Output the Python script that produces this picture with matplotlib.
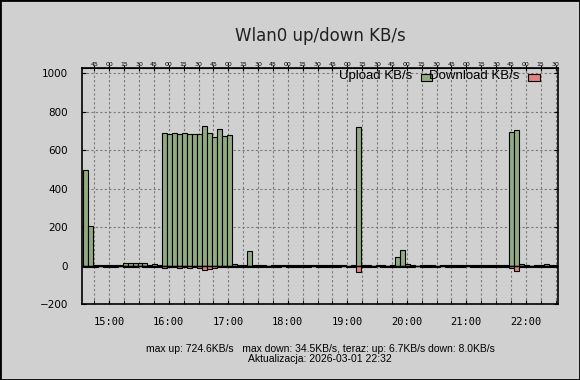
import pandas as pd
import matplotlib
matplotlib.use("Agg")
import matplotlib.pyplot as plt
import matplotlib.dates as mdates
from matplotlib.patches import Rectangle

# --- data (5 minute samples, KB/s) ---
first_sample = "2026-03-01 14:36"
step = "5min"
updated = "2026-03-01 22:32"

upload = [500, 205, 6, 3, 4, 2, 5, 6, 12, 12, 12, 12, 12, 6, 7, 4,
          690, 687, 690, 686, 690, 686, 686, 686, 724.6, 690, 670, 712, 676, 682,
          7, 3, 2, 75, 5, 6, 2, 1, 3, 2, 3, 5, 6, 4, 3, 2, 4, 4, 3, 2,
          3, 2, 4, 1, 2, 719, 3, 2, 1, 6, 2, 1, 4, 48, 80, 8, 2, 1, 2, 3,
          2, 1, 4, 5, 2, 2, 5, 3, 2, 6, 5, 3, 6, 4, 6, 4, 694, 708, 7, 2,
          1, 2, 4, 7, 4, 6.7]
download = [6, 7, 4, 3, 5, 4, 6, 3, 5, 4, 5, 3, 5, 4, 6, 5,
            9, 8, 8, 9, 8, 9, 8, 10, 20, 19, 9, 8, 7, 6,
            4, 5, 6, 5, 7, 4, 5, 6, 4, 5, 3, 4, 5, 6, 4, 5, 3, 4, 5, 4,
            6, 5, 3, 4, 5, 34.5, 5, 4, 6, 3, 5, 6, 4, 5, 6, 4, 5, 3, 6, 4,
            5, 6, 3, 4, 5, 6, 4, 3, 5, 4, 5, 6, 4, 5, 4, 6, 10, 26, 5, 6,
            4, 5, 6, 4, 5, 8.0]

times = pd.date_range(first_sample, periods=len(upload), freq=step)
down_neg = [-d for d in download]

bg = "#d0d0d0"
green = "#90ab7f"
red = "#e58080"

fig = plt.figure(figsize=(5.8, 3.8), dpi=100, facecolor=bg)
ax = fig.add_axes([82 / 580, 1 - 304.3 / 380, 476 / 580, 236 / 380])
ax.set_facecolor(bg)

w = 5 / 1440
ax.bar(times, upload, width=w, color=green, edgecolor="black", linewidth=0.8, zorder=3)
ax.bar(times, down_neg, width=w, color=red, edgecolor="black", linewidth=0.8, zorder=3)
ax.axhline(0, color="black", linewidth=1, zorder=4)

ax.set_xlim(pd.Timestamp("2026-03-01 14:32:30"), pd.Timestamp("2026-03-01 22:32:30"))
ax.set_ylim(-200, 1026)
ax.set_yticks(range(-200, 1001, 200))

ax.xaxis.set_major_locator(mdates.HourLocator())
ax.xaxis.set_major_formatter(mdates.DateFormatter("%H:%M"))
ax.xaxis.set_minor_locator(mdates.MinuteLocator(byminute=[0, 15, 30, 45]))

ax.grid(True, which="both", axis="x", color="#7a7a7a", linestyle=(0, (2, 2)), linewidth=0.8, zorder=1)
ax.grid(True, which="major", axis="y", color="#7a7a7a", linestyle=(0, (2, 2)), linewidth=0.8, zorder=1)

ax.tick_params(axis="y", direction="in", length=3, left=True, right=True, labelsize=7.5, pad=10)
ax.tick_params(axis="x", which="both", direction="in", length=3)
for lab in ax.get_xticklabels():
    lab.set_family("DejaVu Sans Mono")
    lab.set_fontsize(7.5)
ax.tick_params(axis="x", pad=9)

# tiny minute labels along the top
top = ax.secondary_xaxis("top")
top.xaxis.set_major_locator(mdates.MinuteLocator(byminute=[0, 15, 30, 45]))
top.xaxis.set_major_formatter(mdates.DateFormatter("%M"))
top.tick_params(direction="inout", length=4, labelsize=4.5, pad=-1)

for s in ax.spines.values():
    s.set_linewidth(1.2)
    s.set_zorder(5)

fig.text(320 / 580, 1 - 36 / 380, "Wlan0 up/down KB/s", ha="center", va="center", fontsize=12, color="#202020")

# gnuplot-style key: text then sample box
fig.text(412 / 580, 1 - 76 / 380, "Upload KB/s", ha="right", va="center",
         family="Liberation Sans", fontsize=9.5)
fig.patches.append(Rectangle((421 / 580, 1 - 80.5 / 380), 11 / 580, 6.5 / 380,
                             transform=fig.transFigure, facecolor=green, edgecolor="black", linewidth=0.8))
fig.text(519 / 580, 1 - 76 / 380, "Download KB/s", ha="right", va="center",
         family="Liberation Sans", fontsize=9.5)
fig.patches.append(Rectangle((528 / 580, 1 - 80.5 / 380), 12 / 580, 6.5 / 380,
                             transform=fig.transFigure, facecolor=red, edgecolor="black", linewidth=0.8))

stats = (f"max up: {max(upload):.1f}KB/s   max down: {max(download):.1f}KB/s, "
         f"teraz: up: {upload[-1]:.1f}KB/s down: {download[-1]:.1f}KB/s")
fig.text(320 / 580, 1 - 349.5 / 380, stats, ha="center", va="center", family="Liberation Sans", fontsize=7.5)
fig.text(320 / 580, 1 - 359.5 / 380, "Aktualizacja: " + updated, ha="center", va="center",
         family="Liberation Sans", fontsize=7.5)

fig.patches.append(Rectangle((0, 0), 1, 1, transform=fig.transFigure, fill=False,
                             edgecolor="black", linewidth=2))

fig.savefig("out.png", dpi=100, facecolor=bg)
